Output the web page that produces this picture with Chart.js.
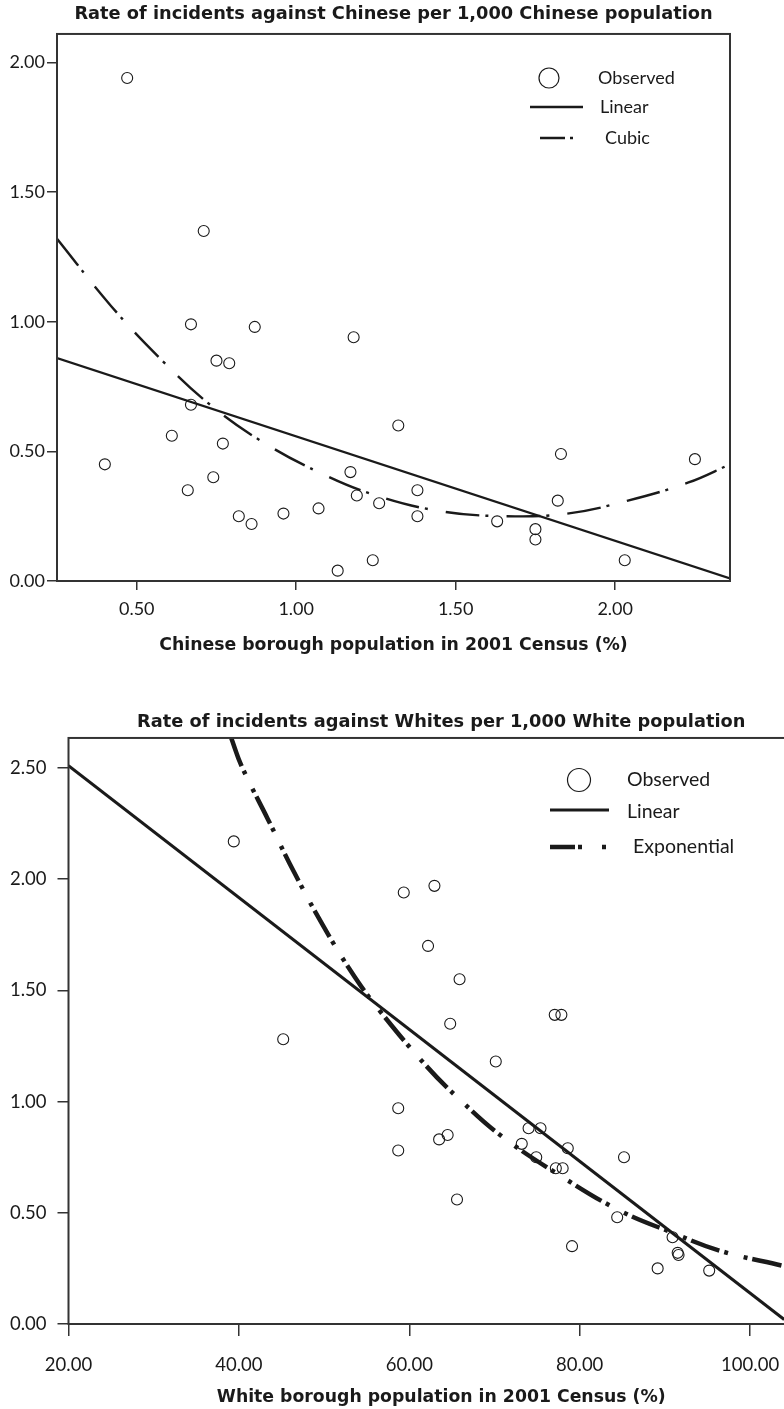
<!DOCTYPE html>
<html>
<head>
<meta charset="utf-8">
<script src="https://cdn.jsdelivr.net/npm/chart.js@4.4.1/dist/chart.umd.min.js"></script>
<style>
  html, body { margin: 0; padding: 0; background: #fff; overflow: hidden; }
  #wrap { position: relative; width: 784px; height: 1409px; overflow: hidden; }
  #box1 { position: absolute; left: 0; top: 0; width: 784px; height: 670px; }
  #box2 { position: absolute; left: 0; top: 680px; width: 830px; height: 729px; }
</style>
</head>
<body>
<div id="wrap">
  <div id="box1"><canvas id="chinese"></canvas></div>
  <div id="box2"><canvas id="white"></canvas></div>
</div>
<script>
// ---- top chart: Chinese ----
const chineseShare = [0.47, 0.71, 0.67, 0.87, 0.75, 0.79, 1.18, 0.67, 0.61, 0.77, 0.40, 1.32, 0.66, 0.74, 0.82, 0.86,
                      0.96, 1.07, 1.17, 1.19, 1.26, 1.38, 1.38, 1.13, 1.24, 1.63, 1.75, 1.75, 1.82, 1.83, 2.03, 2.25];
const chineseRate  = [1.94, 1.35, 0.99, 0.98, 0.85, 0.84, 0.94, 0.68, 0.56, 0.53, 0.45, 0.60, 0.35, 0.40, 0.25, 0.22,
                      0.26, 0.28, 0.42, 0.33, 0.30, 0.35, 0.25, 0.04, 0.08, 0.23, 0.20, 0.16, 0.31, 0.49, 0.08, 0.47];
const chineseLinearX = [0.25, 2.36];
const chineseLinearY = [0.86, 0.01];
const chineseCubicX = [0.25, 0.42, 0.58, 0.73, 0.89, 1.07, 1.25, 1.45, 1.65, 1.85, 2.04, 2.23, 2.36];
const chineseCubicY = [1.32, 1.06, 0.85, 0.68, 0.54, 0.42, 0.33, 0.27, 0.25, 0.26, 0.31, 0.38, 0.45];
const chineseXTicks = [0.5, 1.0, 1.5, 2.0];
const chineseYTicks = [0.0, 0.5, 1.0, 1.5, 2.0];

// ---- bottom chart: White ----
const whiteShare = [39.4, 45.2, 58.7, 58.7, 59.35, 62.95, 62.2, 65.9, 64.8, 77.07, 77.85, 70.15, 63.5, 64.5, 74.0,
                    75.4, 73.2, 78.6, 74.9, 85.2, 77.2, 78.0, 65.6, 84.4, 79.1, 90.9, 91.5, 91.6, 89.15, 95.2];
const whiteRate  = [2.17, 1.28, 0.97, 0.78, 1.94, 1.97, 1.70, 1.55, 1.35, 1.39, 1.39, 1.18, 0.83, 0.85, 0.88,
                    0.88, 0.81, 0.79, 0.75, 0.75, 0.70, 0.70, 0.56, 0.48, 0.35, 0.39, 0.32, 0.31, 0.25, 0.24];
const whiteLinearX = [20.0, 104.0];
const whiteLinearY = [2.51, 0.02];
const whiteExpX = [39.1, 40.3, 43.4, 46.5, 49.9, 53.6, 56.7, 62.0, 65.9, 71.0, 78.0, 84.7, 90.9, 96.4, 104.0];
const whiteExpY = [2.635, 2.51, 2.27, 2.03, 1.79, 1.56, 1.40, 1.16, 1.01, 0.84, 0.66, 0.51, 0.41, 0.33, 0.26];
const whiteXTicks = [20, 40, 60, 80, 100];
const whiteYTicks = [0.0, 0.5, 1.0, 1.5, 2.0, 2.5];

const ink = "#1a1a1a";
const fontFamily = "Lato, 'Open Sans', sans-serif";
const boldFamily = "'DejaVu Sans', Lato, sans-serif";

const zip = (xs, ys) => xs.map((x, i) => ({ x: x, y: ys[i] }));

// box round the plot area
const framePlugin = {
    id: "frame",
    afterDraw(chart) {
        const a = chart.chartArea;
        const ctx = chart.ctx;
        ctx.save();
        ctx.strokeStyle = "#333";
        ctx.lineWidth = 2;
        ctx.strokeRect(a.left, a.top, a.right - a.left, a.bottom - a.top);
        ctx.restore();
    }
};

// the key inside the plot, drawn like the SPSS one
const keyPlugin = {
    id: "key",
    afterDraw(chart, args, opts) {
        const ctx = chart.ctx;
        ctx.save();
        ctx.fillStyle = ink;
        ctx.strokeStyle = ink;
        ctx.font = opts.font;
        ctx.textBaseline = "middle";
        opts.items.forEach(item => {
            const ds = chart.data.datasets[item.dataset];
            if (item.kind === "circle") {
                ctx.lineWidth = 1.2;
                ctx.setLineDash([]);
                ctx.beginPath();
                ctx.arc(item.x, item.y, item.r, 0, Math.PI * 2);
                ctx.stroke();
            } else {
                ctx.lineWidth = item.width;
                ctx.setLineDash(item.dash || []);
                ctx.beginPath();
                ctx.moveTo(item.x0, item.y);
                ctx.lineTo(item.x1, item.y);
                ctx.stroke();
            }
            ctx.setLineDash([]);
            ctx.fillText(ds.label, item.tx, item.ty || item.y);
        });
        ctx.restore();
    }
};

function makeChart(canvas, cfg) {
    return new Chart(canvas, {
        type: "scatter",
        data: {
            datasets: [
                { label: "Observed", data: zip(cfg.obsX, cfg.obsY), pointRadius: cfg.pointRadius,
                  pointBorderWidth: 1.1, borderColor: ink, backgroundColor: "rgba(0,0,0,0)", pointHoverRadius: cfg.pointRadius },
                { label: "Linear", data: zip(cfg.linX, cfg.linY), showLine: true, pointRadius: 0,
                  borderColor: ink, borderWidth: cfg.linWidth },
                { label: cfg.fitName, data: zip(cfg.fitX, cfg.fitY), showLine: true, pointRadius: 0, tension: 0.4,
                  borderColor: ink, borderWidth: cfg.fitWidth, borderDash: cfg.fitDash }
            ]
        },
        options: {
            responsive: true,
            maintainAspectRatio: false,
            animation: false,
            events: [],
            layout: { padding: { left: 0, right: cfg.padRight, top: 0, bottom: 0 } },
            plugins: {
                legend: { display: false },
                tooltip: { enabled: false },
                title: {
                    display: true, text: cfg.title, color: ink, fullSize: false,
                    font: { family: boldFamily, size: 17.8, weight: "bold", lineHeight: 1.2 },
                    padding: cfg.titlePad
                },
                key: cfg.key
            },
            scales: {
                x: {
                    type: "linear", min: cfg.xMin, max: cfg.xMax,
                    afterBuildTicks: s => { s.ticks = cfg.xTicks.map(v => ({ value: v })); },
                    afterFit: s => { s.height = cfg.xHeight; },
                    ticks: { color: ink, padding: cfg.xTickPad, maxRotation: 0,
                             font: { family: fontFamily, size: cfg.tickSize }, callback: v => v.toFixed(2) },
                    grid: { drawOnChartArea: false, drawTicks: true, tickLength: cfg.xTickLen, color: "#333", lineWidth: 1.5 },
                    border: { display: false },
                    title: { display: true, text: cfg.xTitle, color: ink, padding: cfg.xTitlePad,
                             font: { family: boldFamily, size: 17.3, weight: "bold", lineHeight: 1.2 } }
                },
                y: {
                    type: "linear", min: 0, max: cfg.yMax,
                    afterBuildTicks: s => { s.ticks = cfg.yTicks.map(v => ({ value: v })); },
                    afterFit: s => { s.width = cfg.yWidth; },
                    ticks: { color: ink, padding: cfg.yTickPad,
                             font: { family: fontFamily, size: cfg.tickSize }, callback: v => v.toFixed(2) },
                    grid: { drawOnChartArea: false, drawTicks: true, tickLength: cfg.yTickLen, color: "#333", lineWidth: 1.5 },
                    border: { display: false }
                }
            }
        },
        plugins: [framePlugin, keyPlugin]
    });
}

makeChart(document.getElementById("chinese"), {
    title: "Rate of incidents against Chinese per 1,000 Chinese population",
    xTitle: "Chinese borough population in 2001 Census (%)",
    fitName: "Cubic",
    obsX: chineseShare, obsY: chineseRate,
    linX: chineseLinearX, linY: chineseLinearY,
    fitX: chineseCubicX, fitY: chineseCubicY,
    xTicks: chineseXTicks, yTicks: chineseYTicks,
    xMin: 0.25, xMax: 2.36, yMax: 2.11,
    pointRadius: 5.5, linWidth: 2.2, fitWidth: 2.4, fitDash: [34, 6, 3, 18],
    padRight: 54, yWidth: 57, xHeight: 89, tickSize: 18,
    titlePad: { top: 3.3, bottom: 9.3 },
    xTickPad: 8.5, xTickLen: 9, yTickPad: 2, yTickLen: 10,
    xTitlePad: { top: 10, bottom: 14.6 },
    key: {
        font: "18px " + fontFamily,
        items: [
            { dataset: 0, kind: "circle", x: 549, y: 78, r: 10, tx: 598 },
            { dataset: 1, kind: "line", x0: 530, x1: 583, y: 107, width: 2.4, tx: 600 },
            { dataset: 2, kind: "line", x0: 540, x1: 574, y: 138, width: 2.4, dash: [25, 5, 3, 40], tx: 605 }
        ]
    }
});

makeChart(document.getElementById("white"), {
    title: "Rate of incidents against Whites per 1,000 White population",
    xTitle: "White borough population in 2001 Census (%)",
    fitName: "Exponential",
    obsX: whiteShare, obsY: whiteRate,
    linX: whiteLinearX, linY: whiteLinearY,
    fitX: whiteExpX, fitY: whiteExpY,
    xTicks: whiteXTicks, yTicks: whiteYTicks,
    xMin: 20, xMax: 107.5, yMax: 2.635,
    pointRadius: 5.5, linWidth: 3, fitWidth: 4.5, fitDash: [30, 5, 4, 16, 4, 5],
    padRight: 16, yWidth: 68.5, xHeight: 85, tickSize: 18.5,
    titlePad: { top: 31.3, bottom: 5.3 },
    xTickPad: 17.5, xTickLen: 12, yTickPad: 11, yTickLen: 11,
    xTitlePad: { top: 10, bottom: 1.6 },
    key: {
        font: "19.5px " + fontFamily,
        items: [
            { dataset: 0, kind: "circle", x: 579, y: 100, r: 11.5, tx: 627 },
            { dataset: 1, kind: "line", x0: 550, x1: 609, y: 130, width: 3, tx: 627, ty: 132 },
            { dataset: 2, kind: "line", x0: 550, x1: 606, y: 167, width: 4.5, dash: [25, 3, 4, 20, 4, 40], tx: 633 }
        ]
    }
});
</script>
</body>
</html>
